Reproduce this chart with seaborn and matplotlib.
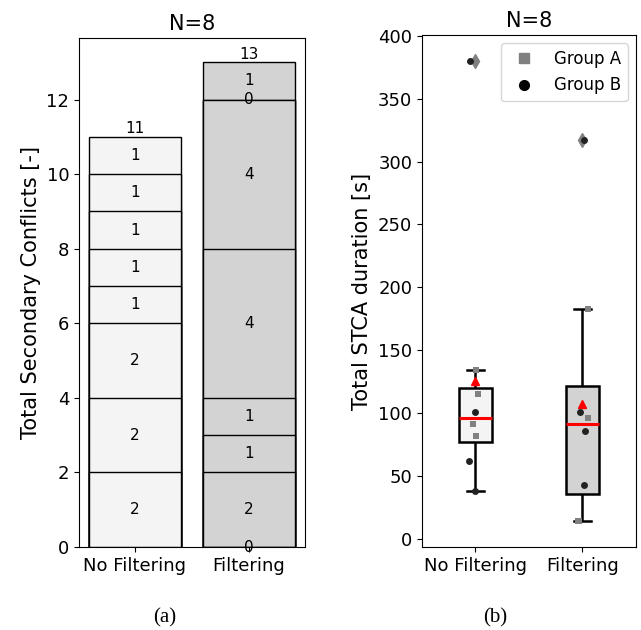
import numpy as np
import pandas as pd
import matplotlib
matplotlib.use("Agg")
import matplotlib.pyplot as plt
from matplotlib.lines import Line2D
import seaborn as sns

# ==========================================
# Data
# ==========================================
conditions = ["No Filtering", "Filtering"]
bar_colors = ["#f4f4f4", "#d3d3d3"]

# secondary conflicts per participant, stacked bottom -> top
conflicts_no_filter = [2, 2, 2, 1, 1, 1, 1, 1]
conflicts_filter = [0, 2, 1, 1, 4, 4, 0, 1]

# total STCA duration [s] per participant
stca_group = ["A", "A", "A", "A", "B", "B", "B", "B"]
stca_no_filter = [134, 115, 91, 82, 380, 101, 62, 38]
stca_filter = [183, 96, 14, 14, 317, 101, 86, 43]

n_participants = 8

# ==========================================
# Figure
# ==========================================
fig = plt.figure(figsize=(6.41, 6.30), dpi=100)
ax1 = fig.add_axes([0.1232, 0.1317, 0.3526, 0.8079])
ax2 = fig.add_axes([0.6583, 0.1317, 0.3339, 0.8127])

# ---- (a) stacked bars ----
segments = np.array([conflicts_no_filter, conflicts_filter])
cum = np.cumsum(segments, axis=1)
# draw tallest cumulative bar first, then smaller ones on top
for level in reversed(range(segments.shape[1])):
    sns.barplot(x=conditions, y=cum[:, level], hue=conditions,
                palette=bar_colors, order=conditions, hue_order=conditions,
                edgecolor="black", linewidth=1.0, width=0.8,
                legend=False, ax=ax1)

for i in range(len(conditions)):
    for level in range(segments.shape[1]):
        mid = cum[i, level] - segments[i, level] / 2
        ax1.text(i, mid, str(segments[i, level]), ha="center", va="center",
                 fontsize=11)
    ax1.text(i, cum[i, -1] + 0.02, str(cum[i, -1]), ha="center",
             va="bottom", fontsize=11)

ax1.set_ylim(0, cum.max() * 1.05)
ax1.set_yticks(range(0, 13, 2))
ax1.set_xlim(-0.49, 1.49)
ax1.set_xlabel("")
ax1.set_ylabel("Total Secondary Conflicts [-]", fontsize=15)
ax1.set_title(f"N={n_participants}", fontsize=15)
ax1.tick_params(labelsize=13)

# ---- (b) box + strip ----
df = pd.DataFrame({
    "condition": [conditions[0]] * len(stca_no_filter) + [conditions[1]] * len(stca_filter),
    "duration": stca_no_filter + stca_filter,
    "group": stca_group + stca_group,
})

sns.boxplot(data=df, x="condition", y="duration", hue="condition",
            order=conditions, hue_order=conditions, palette=bar_colors,
            width=0.3, linewidth=1.8, linecolor="black", legend=False,
            showmeans=True,
            meanprops=dict(marker="^", markerfacecolor="red",
                           markeredgecolor="red", markersize=6),
            medianprops=dict(color="red", linewidth=2.2),
            flierprops=dict(marker="d", markerfacecolor="gray",
                            markeredgecolor="gray", markersize=7),
            ax=ax2)

np.random.seed(3)
sns.stripplot(data=df[df["group"] == "A"], x="condition", y="duration",
              order=conditions, color="gray", marker="s", size=5,
              jitter=0.06, ax=ax2)
sns.stripplot(data=df[df["group"] == "B"], x="condition", y="duration",
              order=conditions, color="#222222", marker="o", size=5,
              jitter=0.06, ax=ax2)

handles = [Line2D([], [], linestyle="", marker="s", color="gray", markersize=7),
           Line2D([], [], linestyle="", marker="o", color="black", markersize=7)]
ax2.legend(handles, ["Group A", "Group B"], loc="upper right", fontsize=12)

ax2.set_ylim(-6.7, 400.8)
ax2.set_yticks(range(0, 401, 50))
ax2.set_xlim(-0.5, 1.5)
ax2.set_xlabel("")
ax2.set_ylabel("Total STCA duration [s]", fontsize=15)
ax2.set_title(f"N={n_participants}", fontsize=15)
ax2.tick_params(labelsize=13)

# subfigure captions
fig.text(0.257, 0.02, "(a)", ha="center", va="center",
         fontsize=15, family="Liberation Serif")
fig.text(0.773, 0.02, "(b)", ha="center", va="center",
         fontsize=15, family="Liberation Serif")

fig.savefig("out.png", dpi=100)
